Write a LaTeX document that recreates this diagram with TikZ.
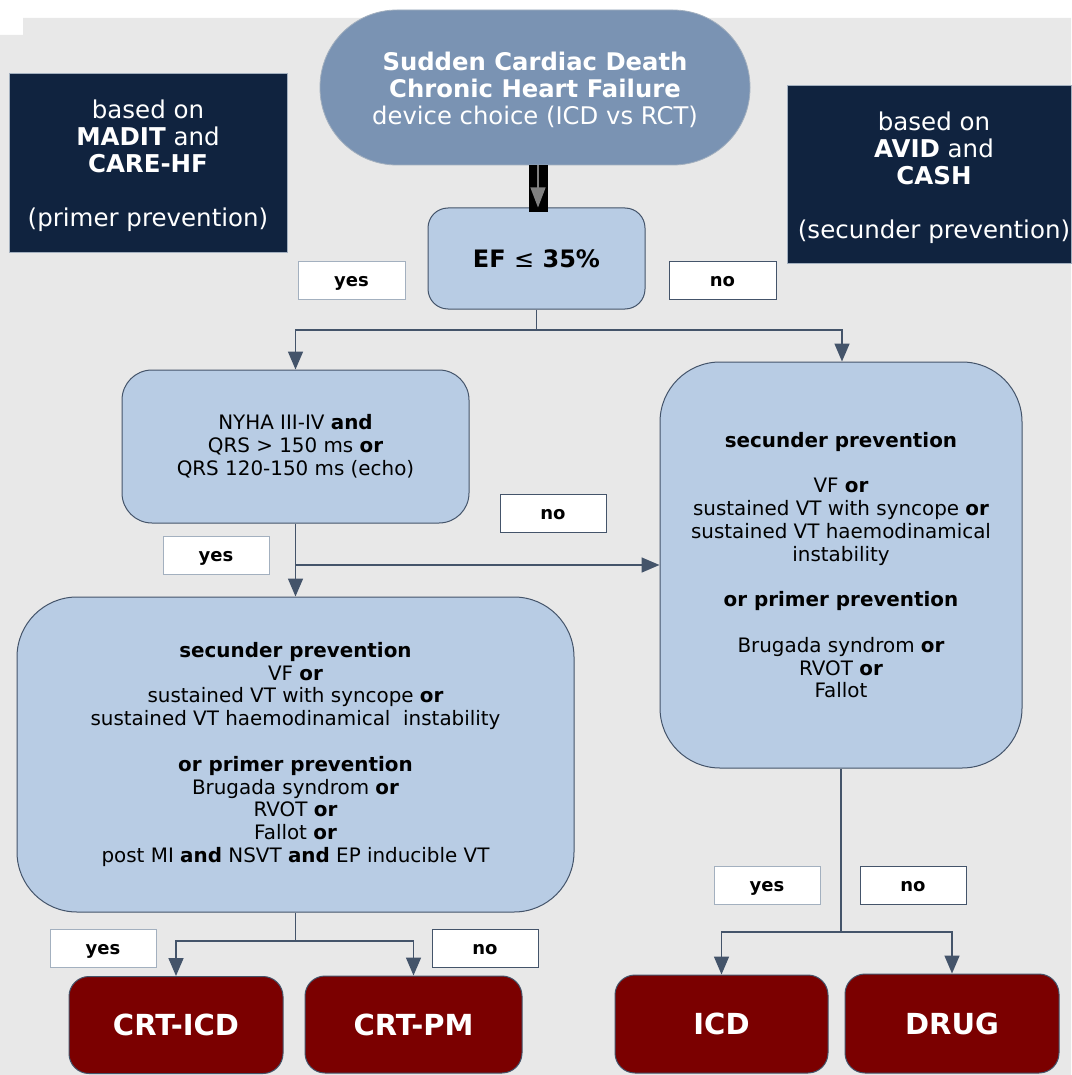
\documentclass[tikz,border=0pt]{standalone}
\usepackage{fontspec}
\setmainfont{DejaVu Sans}
\usetikzlibrary{arrows.meta}
\definecolor{bggray}{HTML}{E8E8E8}
\definecolor{navy}{HTML}{10233F}
\definecolor{steel}{HTML}{7A93B3}
\definecolor{lightblue}{HTML}{B8CCE4}
\definecolor{edge}{HTML}{44546A}
\definecolor{darkred}{HTML}{7B0000}
\definecolor{lightedge}{HTML}{A3B0BF}
\begin{document}
\begin{tikzpicture}[x=1pt,y=-1pt,
  darkbox/.style={draw=lightedge, line width=0.8pt, fill=navy, text=white, align=center, inner sep=0pt,
    font={\fontsize{24.5}{27}\selectfont}},
  topbox/.style={draw=lightedge, line width=0.8pt, fill=steel, text=white, align=center, inner sep=0pt,
    rounded corners=77pt, font={\fontsize{24.3}{27}\selectfont}},
  bluebox/.style={draw=edge, line width=1pt, fill=lightblue, align=center, inner sep=0pt,
    font={\fontsize{19.9}{22.8}\selectfont}},
  redbox/.style={draw=edge, line width=1pt, fill=darkred, text=white, rounded corners=20pt, inner sep=0pt,
    minimum width=214pt, minimum height=97pt, font={\fontsize{29}{32}\selectfont\bfseries}},
  yeslabel/.style={draw=lightedge, line width=1pt, fill=white, inner sep=0pt, minimum width=106pt, minimum height=38pt,
    text height=13pt, text depth=1pt, font={\fontsize{18}{22}\selectfont\bfseries}},
  nolabel/.style={yeslabel, draw=edge},
  conn/.style={draw=edge, line width=1.6pt},
  arr/.style={conn, -{Triangle[width=15pt,length=18pt]}}
]
\useasboundingbox (0,0) rectangle (1071,1075);
\fill[bggray] (0,35) -- (23,35) -- (23,18) -- (1071,18) -- (1071,1075) -- (0,1075) -- cycle;

% info boxes
\node[darkbox, minimum width=278pt, minimum height=179pt] (madit) at (148,162.5)
  {\mbox{}\\[-1pt] based on\\ \textbf{MADIT} and\\ \textbf{CARE-HF}\\ \mbox{}\\ (primer prevention)};
\node[darkbox, minimum width=284pt, minimum height=178pt] (avid) at (929,174)
  {\mbox{}\\[-1pt] \hspace*{10pt}based on\\ \hspace*{10pt}\textbf{AVID} and\\ \hspace*{10pt}\textbf{CASH}\\ \mbox{}\\ \hspace*{10pt}(secunder prevention)};

% top
\node[topbox, minimum width=430pt, minimum height=155pt] (top) at (535,87.5)
  {\mbox{}\\[-3pt] \textbf{Sudden Cardiac Death}\\ \textbf{Chronic Heart Failure}\\ device choice (ICD vs RCT)};

% EF
\node[bluebox, rounded corners=20pt, minimum width=217pt, minimum height=101pt,
  font={\fontsize{24}{28}\selectfont\bfseries}] (ef) at (536.5,258.5)
  {EF {\mdseries≤} 35\%};

% NYHA
\node[bluebox, rounded corners=30pt, minimum width=347pt, minimum height=153pt] (nyha) at (295.5,446.5)
  {NYHA III-IV \textbf{and}\\ QRS > 150 ms \textbf{or}\\ QRS 120-150 ms (echo)};

% big left
\node[bluebox, rounded corners=60pt, minimum width=557pt, minimum height=315pt] (left) at (295.5,754.5)
  {\textbf{secunder prevention}\\ VF \textbf{or}\\ sustained VT with syncope \textbf{or}\\
   sustained VT haemodinamical\ \ instability\\ \mbox{}\\ \textbf{or primer prevention}\\
   Brugada syndrom \textbf{or}\\ RVOT \textbf{or}\\ Fallot \textbf{or}\\
   post MI \textbf{and} NSVT \textbf{and} EP inducible VT};

% right
\node[bluebox, rounded corners=60pt, minimum width=362pt, minimum height=406pt] (right) at (841,565)
  {\textbf{secunder prevention}\\ \mbox{}\\ VF \textbf{or}\\ sustained VT with syncope \textbf{or}\\
   sustained VT haemodinamical\\ instability\\ \mbox{}\\ \textbf{or primer prevention}\\ \mbox{}\\
   Brugada syndrom \textbf{or}\\ RVOT \textbf{or}\\ Fallot};

% outcomes
\node[redbox] (crticd) at (176,1025) {CRT-ICD};
\node[redbox, minimum width=217pt] (crtpm) at (413.5,1024.5) {CRT-PM};
\node[redbox, minimum width=213pt, minimum height=98pt] (icd) at (721.5,1024) {ICD};
\node[redbox, minimum height=99pt] (drug) at (952,1023.5) {DRUG};

% labels
\node[yeslabel, minimum width=107pt] (y1) at (351.5,280) {yes};
\node[nolabel, minimum width=107pt] (n1) at (722.5,280.5) {no};
\node[nolabel] (n2) at (553,513.5) {no};
\node[yeslabel] (y2) at (216,555.5) {yes};
\node[yeslabel] (y3) at (103,948.5) {yes};
\node[nolabel] (n3) at (485,948.5) {no};
\node[yeslabel] (y4) at (767,885.5) {yes};
\node[nolabel] (n4) at (913,885.5) {no};

% top arrow
\coordinate (tb) at (538,165);
\draw[line width=19pt, black] (tb) -- (tb |- 0,212);
\draw[draw=gray, line width=1.2pt, -{Triangle[width=15pt,length=20pt]}, gray] (tb) -- (tb |- ef.north);

% connectors
\draw[arr] (ef.south) -- (ef.south |- 0,330) -| (nyha.north);
\draw[arr] (ef.south |- 0,330) -| ([xshift=1pt]right.north);
\draw[arr] (nyha.south) -- (left.north);
\draw[arr] (nyha.south |- 0,565) -- (right.west);
\draw[arr] (left.south) -- (left.south |- 0,941) -| (crticd.north);
\draw[arr] (left.south |- 0,941) -| (crtpm.north);
\draw[arr] (right.south) -- (right.south |- 0,932) -| (icd.north);
\draw[arr] (right.south |- 0,932) -| (drug.north);
\end{tikzpicture}
\end{document}
